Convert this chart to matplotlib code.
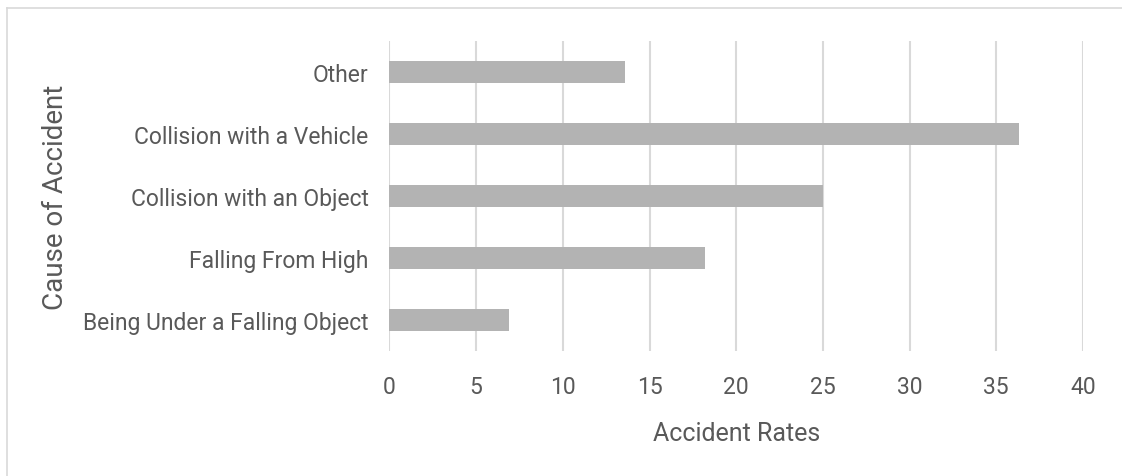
import matplotlib
matplotlib.use("Agg")
import matplotlib.pyplot as plt
from matplotlib.lines import Line2D

categories = ["Being Under a Falling Object", "Falling From High",
              "Collision with an Object", "Collision with a Vehicle", "Other"]
rates = [6.9, 18.2, 25.0, 36.3, 13.6]
xticks = [0, 5, 10, 15, 20, 25, 30, 35, 40]

plt.rcParams['font.family'] = ['Roboto', 'DejaVu Sans']
text_color = "#595959"

fig = plt.figure(figsize=(11.22, 4.77), dpi=100)
ax = fig.add_axes([0.3471, 0.262, 0.6181, 0.650])

ax.barh(categories, rates, height=0.35, color="#b3b3b3", zorder=3)

ax.set_xlim(0, 40)
ax.set_ylim(-0.5, 4.5)
ax.set_xticks(xticks)
ax.grid(axis="x", color="#d9d9d9", linewidth=1.5, zorder=0)
for s in ax.spines.values():
    s.set_visible(False)
ax.tick_params(axis="both", length=0, labelsize=16.5, colors=text_color)
ax.tick_params(axis="x", pad=17)
ax.tick_params(axis="y", pad=15)

ax.set_xlabel("Accident Rates", fontsize=18, color=text_color, labelpad=17)
ax.set_ylabel("Cause of Accident", fontsize=20, color=text_color, labelpad=10)

# outer chart frame (left and top edges visible)
fig.add_artist(Line2D([7 / 1122, 7 / 1122], [0, 1 - 9 / 477], transform=fig.transFigure,
                      color="#d9d9d9", linewidth=1.2))
fig.add_artist(Line2D([7 / 1122, 1], [1 - 9 / 477, 1 - 9 / 477], transform=fig.transFigure,
                      color="#d9d9d9", linewidth=1.2))

fig.savefig("out.png", dpi=100, facecolor="white")
